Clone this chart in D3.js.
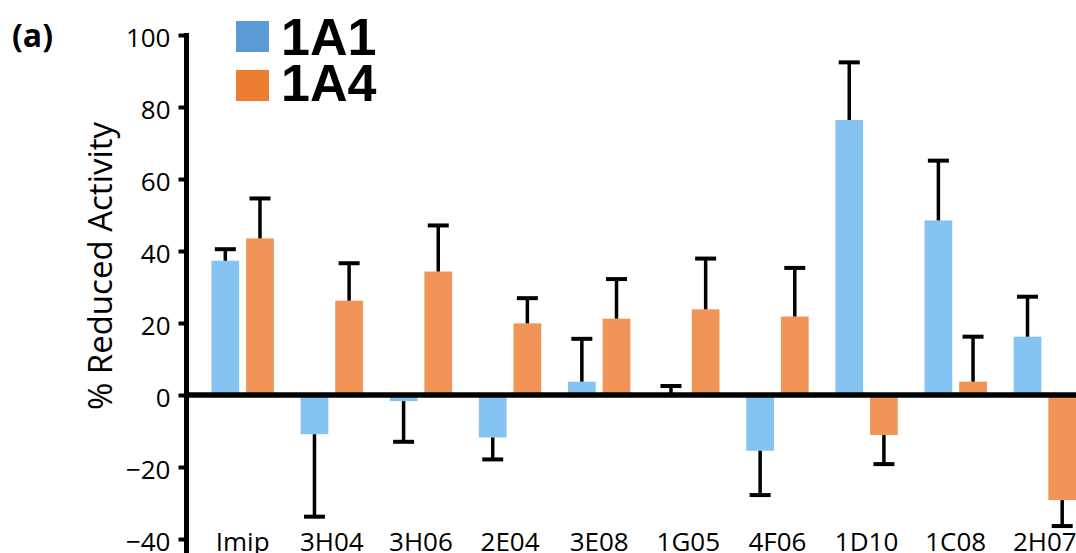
<!DOCTYPE html>
<html><head><meta charset="utf-8">
<script src="https://cdn.jsdelivr.net/npm/d3@7"></script>
<style>body{margin:0;background:#fff;} svg{display:block;}</style>
</head><body>
<svg id="chart" width="1076" height="553"></svg>
<script>
const categories = ["Imip","3H04","3H06","2E04","3E08","1G05","4F06","1D10","1C08","2H07"];
const seriesNames = ["1A1","1A4"];
const values1A1 = [37.3,-10.9,-1.7,-11.8,3.7,0.5,-15.5,76.4,48.5,16.2];
const errors1A1 = [3.2,22.9,11.3,6.1,11.9,2.0,12.3,16.0,16.6,11.1];
const values1A4 = [43.5,26.2,34.3,19.9,21.2,23.8,21.8,-11.1,3.7,-29.2];
const errors1A4 = [11.1,10.4,12.8,7.0,11.0,14.1,13.5,8.1,12.5,7.2];
const yTicks = [-40,-20,0,20,40,60,80,100];
const barColors = ["#85C3F2","#F09557"];
const legendColors = ["#5B9BD5","#ED7D31"];
const yLabel = "% Reduced Activity";
const panelLabel = "(a)";

const seriesValues = [values1A1, values1A4];
const seriesErrors = [errors1A1, errors1A4];
const rows = [];
categories.forEach((c, i) => {
  seriesNames.forEach((s, j) => {
    rows.push({cat: c, series: s, si: j, value: seriesValues[j][i], err: seriesErrors[j][i]});
  });
});

const svg = d3.select("#chart");
const font = "'Open Sans', sans-serif";

const y = d3.scaleLinear().domain([-40, 100]).range([539, 35]);
const axisX = 186.5;
const x0 = d3.scaleBand().domain(categories).range([axisX, 1101]).paddingInner(0.3).paddingOuter(0.28);
const x1 = d3.scaleBand().domain(seriesNames).range([0, x0.bandwidth()]).paddingInner(0.2);
const color = d3.scaleOrdinal().domain(seriesNames).range(barColors);
const legendColor = d3.scaleOrdinal().domain(seriesNames).range(legendColors);

// bars
svg.append("g").selectAll("rect").data(rows).join("rect")
  .attr("x", d => x0(d.cat) + x1(d.series))
  .attr("y", d => Math.min(y(d.value), y(0)))
  .attr("width", x1.bandwidth())
  .attr("height", d => Math.abs(y(d.value) - y(0)))
  .attr("fill", d => color(d.series));

// error bars (one-sided, away from zero)
const eg = svg.append("g").attr("stroke", "#000");
rows.forEach(d => {
  const cx = x0(d.cat) + x1(d.series) + x1.bandwidth() / 2;
  const sgn = d.value >= 0 ? 1 : -1;
  const end = d.value + sgn * d.err;
  eg.append("line").attr("x1", cx).attr("x2", cx)
    .attr("y1", y(d.value)).attr("y2", y(end)).attr("stroke-width", 3.5);
  eg.append("line").attr("x1", cx - 10.5).attr("x2", cx + 10.5)
    .attr("y1", y(end)).attr("y2", y(end)).attr("stroke-width", 4);
});

// zero line
svg.append("line").attr("x1", axisX).attr("x2", 1076)
  .attr("y1", y(0)).attr("y2", y(0))
  .attr("stroke", "#000").attr("stroke-width", 5.5);

// y axis
const yAxis = d3.axisLeft(y).tickValues(yTicks).tickSize(8).tickSizeOuter(0).tickPadding(8);
const ga = svg.append("g").attr("transform", `translate(${axisX},0)`).call(yAxis);
ga.select(".domain").remove();
ga.selectAll(".tick line").attr("stroke", "#000").attr("stroke-width", 4);
ga.selectAll(".tick text").attr("font-family", font).attr("font-size", 26)
  .attr("fill", "#000").attr("dy", "0.45em");
svg.append("line").attr("x1", axisX).attr("x2", axisX).attr("y1", 33).attr("y2", 553)
  .attr("stroke", "#000").attr("stroke-width", 5);

// category labels
svg.append("g").selectAll("text").data(categories).join("text")
  .attr("x", d => x0(d) + x0.bandwidth() / 2)
  .attr("y", 551)
  .attr("text-anchor", "middle")
  .attr("font-family", font).attr("font-size", 26).attr("fill", "#000")
  .text(d => d);

// y label
svg.append("text")
  .attr("transform", "translate(112,266) rotate(-90)")
  .attr("text-anchor", "middle")
  .attr("font-family", font).attr("font-size", 33).attr("fill", "#000")
  .text(yLabel);

// panel label
svg.append("text").attr("x", 12).attr("y", 47)
  .attr("font-family", font).attr("font-weight", "bold").attr("font-size", 32)
  .attr("fill", "#000").text(panelLabel);

// legend
const lg = svg.append("g");
seriesNames.forEach((s, i) => {
  lg.append("rect").attr("x", 236).attr("y", 21 + i * 49).attr("width", 33).attr("height", 31)
    .attr("fill", legendColor(s));
  lg.append("text").attr("x", 281).attr("y", 55 + i * 46)
    .attr("font-family", "'Liberation Sans', Arial, sans-serif").attr("font-weight", "bold")
    .attr("font-size", 52).attr("fill", "#000").text(s);
});
</script>
</body></html>
